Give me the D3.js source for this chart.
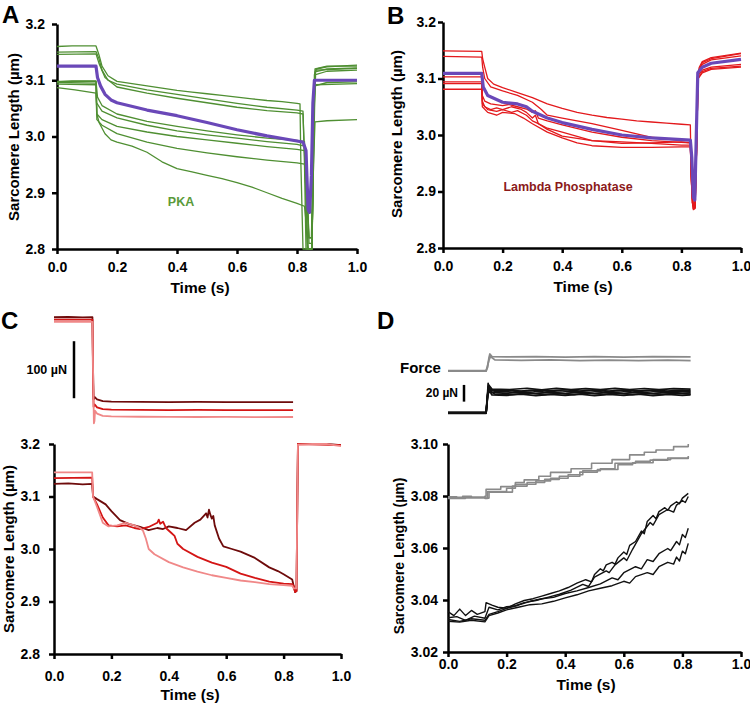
<!DOCTYPE html>
<html><head><meta charset="utf-8">
<script src="https://cdn.jsdelivr.net/npm/d3@7"></script>
<style>
body{margin:0;background:#fff;}
svg{display:block;font-family:"Liberation Sans",Arial,sans-serif;}
.axis path,.axis line{stroke:#000;stroke-width:2.5;}
.axis text{font-size:14px;font-weight:bold;fill:#000;font-family:"Liberation Sans",Arial,sans-serif;}
.trace{fill:none;stroke-linejoin:round;}
</style></head><body>
<svg id="fig" width="750" height="703"></svg>
<script>
// ---------- tick labels ----------
const timeTicks = [0, 0.2, 0.4, 0.6, 0.8, 1.0];
const slTicksABC = [2.8, 2.9, 3.0, 3.1, 3.2];
const slTicksD = [3.02, 3.04, 3.06, 3.08, 3.10];

// ---------- Panel A: PKA (time s, SL um) ----------
const pkaTraces = [
  [[0,3.160],[0.05,3.161],[0.13,3.161],[0.14,3.145],[0.15,3.125],[0.17,3.108],[0.2,3.098],[0.25,3.094],[0.3,3.090],[0.35,3.086],[0.4,3.082],[0.45,3.079],[0.5,3.076],[0.55,3.073],[0.6,3.070],[0.65,3.067],[0.7,3.064],[0.75,3.062],[0.8,3.059],[0.81,3.058],[0.813,2.95],[0.82,2.80],[0.85,2.80],[0.855,3.0],[0.858,3.11],[0.865,3.12],[0.9,3.124],[1.0,3.127]],
  [[0,3.150],[0.13,3.151],[0.14,3.138],[0.15,3.118],[0.17,3.100],[0.2,3.093],[0.3,3.083],[0.4,3.075],[0.5,3.067],[0.6,3.059],[0.7,3.052],[0.8,3.047],[0.82,3.045],[0.825,2.95],[0.83,2.80],[0.85,2.80],[0.855,3.05],[0.86,3.115],[0.9,3.120],[1.0,3.122]],
  [[0,3.146],[0.13,3.147],[0.14,3.130],[0.16,3.105],[0.2,3.088],[0.3,3.077],[0.4,3.068],[0.5,3.060],[0.6,3.052],[0.7,3.046],[0.8,3.042],[0.82,3.040],[0.83,2.90],[0.835,2.80],[0.85,2.80],[0.857,3.05],[0.862,3.11],[0.9,3.116],[1.0,3.118]],
  [[0,3.097],[0.05,3.099],[0.13,3.099],[0.132,3.06],[0.15,3.045],[0.2,3.033],[0.3,3.020],[0.4,3.010],[0.5,3.003],[0.6,2.997],[0.7,2.991],[0.8,2.986],[0.825,2.983],[0.835,2.90],[0.84,2.81],[0.85,2.81],[0.855,2.95],[0.86,3.09],[0.9,3.096],[1.0,3.097]],
  [[0,3.093],[0.13,3.092],[0.133,3.04],[0.15,3.030],[0.2,3.018],[0.3,3.008],[0.4,3.000],[0.5,2.994],[0.6,2.988],[0.7,2.982],[0.8,2.977],[0.825,2.975],[0.835,2.88],[0.84,2.82],[0.848,2.82],[0.855,3.0],[0.86,3.092],[1.0,3.094]],
  [[0,3.087],[0.06,3.083],[0.13,3.077],[0.133,3.03],[0.15,3.020],[0.2,3.005],[0.3,2.990],[0.4,2.979],[0.5,2.971],[0.6,2.964],[0.7,2.958],[0.8,2.953],[0.825,2.951],[0.835,2.86],[0.84,2.82],[0.85,2.82],[0.855,2.95],[0.86,3.026],[0.9,3.028],[1.0,3.030]],
  [[0,3.096],[0.13,3.095],[0.133,3.04],[0.14,3.025],[0.16,3.005],[0.18,2.994],[0.2,2.990],[0.25,2.983],[0.3,2.972],[0.35,2.955],[0.4,2.943],[0.45,2.937],[0.5,2.931],[0.55,2.925],[0.6,2.918],[0.65,2.910],[0.7,2.900],[0.75,2.890],[0.8,2.881],[0.825,2.876],[0.83,2.85],[0.835,2.80],[0.85,2.80],[0.855,3.0],[0.86,3.12],[0.9,3.125],[1.0,3.125]],
  [[0,3.098],[0.13,3.098],[0.135,3.07],[0.15,3.055],[0.2,3.040],[0.3,3.027],[0.4,3.018],[0.5,3.010],[0.6,3.003],[0.7,2.997],[0.8,2.993],[0.825,2.991],[0.832,2.85],[0.838,2.80],[0.85,2.80],[0.856,3.05],[0.862,3.118],[1.0,3.121]]
];
const pkaMean = [[0,3.125],[0.13,3.125],[0.135,3.105],[0.145,3.09],[0.16,3.075],[0.18,3.065],[0.2,3.06],[0.3,3.047],[0.4,3.037],[0.5,3.025],[0.6,3.012],[0.7,3.001],[0.8,2.992],[0.82,2.99],[0.83,2.975],[0.837,2.87],[0.842,2.865],[0.848,2.93],[0.853,3.06],[0.858,3.1],[1.0,3.1]];

// ---------- Panel B: Lambda Phosphatase ----------
const lpTraces = [
  [[0,3.149],[0.13,3.148],[0.133,3.135],[0.14,3.12],[0.15,3.10],[0.17,3.09],[0.2,3.084],[0.25,3.075],[0.3,3.066],[0.35,3.055],[0.4,3.047],[0.45,3.040],[0.5,3.035],[0.55,3.031],[0.6,3.028],[0.65,3.025],[0.7,3.023],[0.75,3.021],[0.8,3.019],[0.83,3.018],[0.832,2.95],[0.836,2.88],[0.845,2.87],[0.85,2.95],[0.853,3.10],[0.86,3.12],[0.87,3.13],[0.9,3.137],[0.95,3.141],[1.0,3.145]],
  [[0,3.139],[0.13,3.138],[0.133,3.12],[0.14,3.10],[0.16,3.085],[0.2,3.078],[0.25,3.070],[0.3,3.058],[0.33,3.045],[0.35,3.035],[0.4,3.030],[0.5,3.020],[0.6,3.008],[0.7,2.996],[0.8,2.990],[0.83,2.990],[0.834,2.92],[0.838,2.875],[0.846,2.872],[0.851,2.97],[0.855,3.11],[0.87,3.128],[0.9,3.135],[1.0,3.144]],
  [[0,3.103],[0.13,3.103],[0.132,3.07],[0.14,3.060],[0.16,3.055],[0.2,3.052],[0.22,3.054],[0.25,3.050],[0.28,3.046],[0.3,3.040],[0.31,3.043],[0.32,3.030],[0.35,3.025],[0.4,3.018],[0.5,3.005],[0.6,2.996],[0.7,2.990],[0.8,2.987],[0.83,2.986],[0.835,2.90],[0.84,2.87],[0.846,2.872],[0.852,3.0],[0.856,3.105],[0.87,3.115],[0.9,3.12],[1.0,3.125]],
  [[0,3.094],[0.13,3.094],[0.132,3.06],[0.14,3.050],[0.16,3.045],[0.18,3.048],[0.2,3.045],[0.23,3.050],[0.26,3.046],[0.28,3.040],[0.3,3.030],[0.31,3.035],[0.32,3.020],[0.35,3.012],[0.4,3.005],[0.5,2.990],[0.6,2.985],[0.7,2.986],[0.8,2.988],[0.83,2.986],[0.835,2.90],[0.84,2.875],[0.846,2.875],[0.852,3.0],[0.856,3.10],[0.87,3.11],[0.9,3.116],[1.0,3.120]],
  [[0,3.091],[0.13,3.091],[0.132,3.055],[0.15,3.045],[0.18,3.042],[0.2,3.045],[0.23,3.040],[0.25,3.043],[0.28,3.035],[0.3,3.025],[0.32,3.020],[0.35,3.010],[0.4,2.998],[0.5,2.990],[0.6,2.988],[0.7,2.985],[0.8,2.982],[0.83,2.982],[0.835,2.90],[0.84,2.868],[0.846,2.87],[0.852,3.0],[0.856,3.10],[0.87,3.112],[0.9,3.118],[1.0,3.122]],
  [[0,3.081],[0.13,3.081],[0.132,3.05],[0.15,3.040],[0.18,3.035],[0.2,3.040],[0.24,3.038],[0.27,3.030],[0.3,3.020],[0.35,3.005],[0.4,2.995],[0.45,2.986],[0.5,2.981],[0.6,2.978],[0.7,2.978],[0.8,2.979],[0.83,2.979],[0.835,2.90],[0.84,2.87],[0.846,2.875],[0.852,3.0],[0.856,3.11],[0.87,3.125],[0.9,3.133],[1.0,3.140]]
];
const lpMean = [[0,3.109],[0.13,3.109],[0.135,3.085],[0.15,3.07],[0.2,3.058],[0.25,3.055],[0.28,3.05],[0.3,3.042],[0.35,3.03],[0.4,3.022],[0.5,3.01],[0.6,3.0],[0.7,2.995],[0.83,2.991],[0.835,2.96],[0.84,2.89],[0.845,2.885],[0.85,3.0],[0.855,3.11],[0.87,3.12],[0.9,3.127],[1.0,3.134]];

// ---------- Panel C: force (uN) and SL ----------
const cNames = ["dark", "red", "light"];
const cForce = [
  [[0,189],[0.05,189.5],[0.1,188.8],[0.134,189],[0.136,100],[0.138,45],[0.142,49],[0.15,45],[0.17,42],[0.2,41],[0.3,40.5],[0.4,40.2],[0.5,40.5],[0.6,40],[0.7,40.3],[0.833,40]],
  [[0,185],[0.134,185],[0.136,80],[0.138,32],[0.142,36],[0.15,31],[0.17,28],[0.2,27],[0.3,26.5],[0.4,26.2],[0.5,26.4],[0.6,26],[0.7,26.2],[0.833,26]],
  [[0,181],[0.134,181],[0.136,100],[0.139,3],[0.141,7],[0.143,25],[0.15,20],[0.17,16],[0.2,15],[0.3,14.5],[0.4,14.2],[0.5,14],[0.6,14.1],[0.7,13.8],[0.833,14]]
];
const cForceBar = [47, 147];
const cSL = [
  [[0,3.124],[0.05,3.125],[0.1,3.123],[0.133,3.124],[0.136,3.10],[0.15,3.095],[0.18,3.085],[0.2,3.072],[0.23,3.055],[0.26,3.048],[0.3,3.042],[0.33,3.036],[0.36,3.040],[0.38,3.038],[0.4,3.043],[0.43,3.040],[0.46,3.036],[0.49,3.050],[0.51,3.056],[0.53,3.068],[0.535,3.060],[0.54,3.075],[0.545,3.065],[0.55,3.058],[0.555,3.063],[0.56,3.045],[0.575,3.020],[0.59,3.005],[0.62,3.000],[0.65,2.995],[0.7,2.983],[0.75,2.965],[0.78,2.958],[0.8,2.952],[0.83,2.942],[0.835,2.93],[0.84,2.918],[0.845,2.920],[0.848,3.10],[0.85,3.20],[0.9,3.200],[0.95,3.200],[1.0,3.198]],
  [[0,3.135],[0.133,3.136],[0.136,3.10],[0.15,3.085],[0.17,3.060],[0.19,3.045],[0.22,3.043],[0.25,3.045],[0.28,3.040],[0.3,3.038],[0.33,3.042],[0.36,3.050],[0.365,3.056],[0.37,3.048],[0.38,3.052],[0.39,3.040],[0.41,3.030],[0.42,3.025],[0.43,3.010],[0.45,3.000],[0.5,2.985],[0.55,2.974],[0.6,2.966],[0.65,2.953],[0.7,2.945],[0.75,2.938],[0.8,2.934],[0.83,2.933],[0.835,2.930],[0.84,2.918],[0.845,2.920],[0.848,3.10],[0.85,3.20],[1.0,3.198]],
  [[0,3.146],[0.133,3.146],[0.136,3.10],[0.15,3.080],[0.17,3.050],[0.19,3.043],[0.22,3.045],[0.25,3.050],[0.28,3.045],[0.3,3.040],[0.31,3.035],[0.32,3.020],[0.33,3.000],[0.35,2.990],[0.4,2.975],[0.45,2.965],[0.5,2.957],[0.55,2.950],[0.6,2.945],[0.65,2.940],[0.7,2.937],[0.75,2.933],[0.8,2.931],[0.83,2.930],[0.835,2.925],[0.845,2.925],[0.848,3.10],[0.85,3.199],[0.9,3.200],[0.95,3.200],[1.0,3.196]]
];

// ---------- Panel D: force (uN) and SL ----------
const dForceGray = [
  [[0,59],[0.13,59],[0.135,63],[0.14,75],[0.143,79],[0.15,76],[0.2,75.5],[0.3,76],[0.4,75.2],[0.5,75.8],[0.6,75.3],[0.7,75.9],[0.828,75.5]],
  [[0,58.5],[0.13,58.5],[0.14,72],[0.145,76],[0.16,72],[0.25,71.5],[0.35,72],[0.45,71.2],[0.55,71.8],[0.65,71],[0.75,71.6],[0.828,71.2]]
];
const dForceBlack = [
  [[0,8.5],[0.13,8.5],[0.133,20],[0.137,44],[0.14,37],[0.15,35],[0.2,36],[0.25,34.5],[0.3,36],[0.35,34.8],[0.4,36.2],[0.45,34.5],[0.5,35.8],[0.55,34.6],[0.6,36],[0.65,34.8],[0.7,35.9],[0.75,34.7],[0.8,35.8],[0.828,35]],
  [[0,9],[0.13,9],[0.134,25],[0.138,40],[0.15,33],[0.2,32],[0.25,33.5],[0.3,31.8],[0.35,33.2],[0.4,32],[0.45,33.4],[0.5,31.9],[0.55,33.1],[0.6,32],[0.65,33.3],[0.7,31.8],[0.75,33],[0.8,32.1],[0.828,32.5]],
  [[0,8],[0.13,8],[0.135,28],[0.14,36],[0.15,30],[0.2,29.5],[0.25,31],[0.3,29.2],[0.35,30.8],[0.4,29.4],[0.45,31],[0.5,29.3],[0.55,30.6],[0.6,29.5],[0.65,30.9],[0.7,29.2],[0.75,30.7],[0.8,29.6],[0.828,30]],
  [[0,8.8],[0.13,8.8],[0.135,30],[0.14,38],[0.16,34],[0.22,33.5],[0.28,35.2],[0.33,33.3],[0.38,35],[0.43,33.6],[0.48,35.3],[0.53,33.4],[0.58,35.1],[0.63,33.5],[0.68,35.2],[0.73,33.6],[0.78,34.9],[0.828,34]],
  [[0,8.2],[0.13,8.2],[0.136,30],[0.141,35],[0.16,31],[0.22,30.6],[0.28,32.2],[0.33,30.5],[0.38,32],[0.43,30.4],[0.48,32.1],[0.53,30.6],[0.58,32.3],[0.63,30.5],[0.68,32],[0.73,30.7],[0.78,31.9],[0.828,31]],
  [[0,9.2],[0.13,9.2],[0.134,28],[0.139,42],[0.15,37],[0.21,36.5],[0.27,38],[0.32,36.2],[0.37,37.8],[0.42,36.4],[0.47,37.6],[0.52,36.3],[0.57,37.9],[0.62,36.5],[0.67,37.7],[0.72,36.3],[0.77,37.6],[0.828,37]]
];
const dForceBar = [22, 42];
const dSLGray = [
  [[0,3.0797],[0.03,3.0795],[0.05,3.0799],[0.08,3.0796],[0.126,3.0799],[0.13,3.0826],[0.18,3.0836],[0.23,3.0852],[0.26,3.0862],[0.31,3.0876],[0.35,3.0891],[0.42,3.0905],[0.49,3.0926],[0.56,3.0940],[0.62,3.0958],[0.67,3.0968],[0.71,3.0977],[0.77,3.0990],[0.82,3.1000]],
  [[0,3.0791],[0.06,3.0793],[0.126,3.0791],[0.135,3.0817],[0.2,3.0830],[0.23,3.0845],[0.3,3.0858],[0.35,3.0868],[0.41,3.0882],[0.46,3.0897],[0.52,3.0905],[0.57,3.0926],[0.64,3.0933],[0.69,3.0938],[0.75,3.0946],[0.82,3.0954]],
  [[0,3.0793],[0.126,3.0792],[0.14,3.0815],[0.22,3.0838],[0.27,3.0852],[0.33,3.0864],[0.38,3.0876],[0.45,3.0892],[0.51,3.0902],[0.58,3.0920],[0.63,3.0928],[0.7,3.0940],[0.76,3.0944],[0.82,3.0950]]
];
const dSLBlack = [
  [[0,3.0355],[0.02,3.0340],[0.04,3.0365],[0.06,3.0340],[0.08,3.0360],[0.1,3.0345],[0.126,3.0355],[0.13,3.0390],[0.15,3.0380],[0.17,3.0372],[0.2,3.0368],[0.23,3.0385],[0.26,3.0398],[0.29,3.0405],[0.32,3.0415],[0.35,3.0425],[0.38,3.0435],[0.41,3.0448],[0.44,3.0465],[0.47,3.0478],[0.49,3.0470],[0.5,3.0498],[0.52,3.0520],[0.53,3.0512],[0.54,3.0535],[0.56,3.0545],[0.57,3.0538],[0.58,3.0562],[0.6,3.0585],[0.61,3.0575],[0.62,3.0610],[0.64,3.0625],[0.66,3.0665],[0.67,3.0655],[0.68,3.0702],[0.7,3.0725],[0.71,3.0712],[0.72,3.0740],[0.74,3.0755],[0.75,3.0745],[0.76,3.0762],[0.78,3.0778],[0.79,3.0770],[0.8,3.0792],[0.82,3.0810]],
  [[0,3.0332],[0.03,3.0336],[0.06,3.0322],[0.09,3.0338],[0.126,3.0330],[0.14,3.0372],[0.17,3.0362],[0.2,3.0374],[0.23,3.0378],[0.26,3.0390],[0.3,3.0398],[0.34,3.0410],[0.38,3.0422],[0.42,3.0438],[0.46,3.0460],[0.48,3.0452],[0.5,3.0488],[0.54,3.0512],[0.55,3.0505],[0.57,3.0535],[0.6,3.0562],[0.61,3.0552],[0.63,3.0595],[0.66,3.0655],[0.69,3.0698],[0.7,3.0688],[0.72,3.0728],[0.75,3.0748],[0.77,3.0738],[0.78,3.0765],[0.8,3.0782],[0.81,3.0775],[0.82,3.0798]],
  [[0,3.0325],[0.04,3.0318],[0.08,3.0328],[0.126,3.0322],[0.14,3.0345],[0.17,3.0355],[0.2,3.0368],[0.24,3.0380],[0.28,3.0395],[0.32,3.0405],[0.36,3.0410],[0.4,3.0425],[0.44,3.0435],[0.48,3.0448],[0.52,3.0462],[0.56,3.0485],[0.58,3.0478],[0.6,3.0505],[0.64,3.0528],[0.66,3.0520],[0.68,3.0555],[0.7,3.0548],[0.72,3.0578],[0.75,3.0598],[0.76,3.0590],[0.78,3.0625],[0.79,3.0612],[0.8,3.0652],[0.81,3.0640],[0.82,3.0676]],
  [[0,3.0318],[0.04,3.0315],[0.08,3.0322],[0.126,3.0316],[0.14,3.0340],[0.17,3.0350],[0.2,3.0362],[0.24,3.0372],[0.28,3.0382],[0.32,3.0385],[0.36,3.0395],[0.4,3.0408],[0.44,3.0420],[0.48,3.0435],[0.52,3.0445],[0.56,3.0455],[0.6,3.0472],[0.62,3.0465],[0.64,3.0490],[0.68,3.0505],[0.7,3.0498],[0.72,3.0528],[0.75,3.0545],[0.77,3.0538],[0.78,3.0565],[0.79,3.0550],[0.8,3.0588],[0.81,3.0578],[0.82,3.0618]]
];

// ---------- drawing ----------
const svg = d3.select("#fig");
const fmt1 = d3.format(".1f"), fmt2 = d3.format(".2f");

function panel(c) {
  const x = d3.scaleLinear().domain([0, 1]).range([c.x0, c.x1]);
  const y = d3.scaleLinear().domain(c.yDomain).range([c.yB, c.yT]);
  const g = svg.append("g");
  g.append("g").attr("class", "axis").attr("transform", `translate(0,${c.yB})`)
    .call(d3.axisBottom(x).tickValues(timeTicks).tickFormat(fmt1).tickSize(5).tickSizeOuter(0).tickPadding(c.xPad));
  g.append("g").attr("class", "axis").attr("transform", `translate(${c.x0},0)`)
    .call(d3.axisLeft(y).tickValues(c.yTicks).tickFormat(c.yFmt).tickSize(5).tickSizeOuter(0).tickPadding(c.yPad));
  g.append("text").attr("x", c.tx).attr("y", c.ty).attr("text-anchor", "middle")
    .attr("font-size", 15.5).attr("font-weight", "bold").text("Time (s)");
  g.append("text").attr("transform", `translate(${c.lx},${c.ly}) rotate(-90)`).attr("text-anchor", "middle")
    .attr("dominant-baseline", "central").attr("font-size", c.lfs).attr("font-weight", "bold").text("Sarcomere Length (µm)");
  svg.append("text").attr("x", c.px).attr("y", c.py).attr("font-size", 24).attr("font-weight", "bold").text(c.letter);
  const line = d3.line().x(d => x(d[0])).y(d => y(d[1]));
  return { x, y, g, line };
}

function draw(g, gen, data, color, w) {
  g.append("path").attr("class", "trace").attr("d", gen(data)).attr("stroke", color).attr("stroke-width", w);
}

// A
const A = panel({x0: 57, x1: 357, yT: 24, yB: 249, yDomain: [2.8, 3.2], yTicks: slTicksABC, yFmt: fmt1,
  xPad: 8, yPad: 7, tx: 200, ty: 293, lx: 13, ly: 137, lfs: 15, px: 2, py: 23, letter: "A"});
pkaTraces.forEach(t => draw(A.g, A.line, t, "#4f8f32", 1.3));
draw(A.g, A.line, pkaMean, "#6a48b8", 3.2);
A.g.append("text").attr("x", 181).attr("y", 206).attr("text-anchor", "middle").attr("font-size", 12.5)
  .attr("font-weight", "bold").attr("fill", "#5a9a3a").text("PKA");

// B
const B = panel({x0: 443, x1: 741, yT: 22, yB: 248, yDomain: [2.8, 3.2], yTicks: slTicksABC, yFmt: fmt1,
  xPad: 8, yPad: 2, tx: 583, ty: 292, lx: 396, ly: 134, lfs: 15, px: 387, py: 24, letter: "B"});
lpTraces.forEach(t => draw(B.g, B.line, t, "#e3191c", 1.3));
draw(B.g, B.line, lpMean, "#6a48b8", 3.2);
B.g.append("text").attr("x", 568).attr("y", 191).attr("text-anchor", "middle").attr("font-size", 12.5)
  .attr("font-weight", "bold").attr("fill", "#8b1a1a").text("Lambda Phosphatase");

// C
const cColors = ["#6e0b0b", "#d41515", "#f08888"];
const C = panel({x0: 54, x1: 341, yT: 444, yB: 654, yDomain: [2.8, 3.2], yTicks: slTicksABC, yFmt: fmt1,
  xPad: 12, yPad: 9, tx: 190, ty: 700, lx: 8, ly: 549, lfs: 15, px: 1, py: 329, letter: "C"});
cSL.forEach((t, i) => draw(C.g, C.line, t, cColors[i], 1.8));
const cfy = d3.scaleLinear().domain([0, 100]).range([425, 368]);
const cfLine = d3.line().x(d => C.x(d[0])).y(d => cfy(d[1]));
cForce.forEach((t, i) => draw(C.g, cfLine, t, cColors[i], 1.8));
C.g.append("line").attr("x1", 74).attr("x2", 74).attr("y1", cfy(cForceBar[0])).attr("y2", cfy(cForceBar[1]))
  .attr("stroke", "#000").attr("stroke-width", 2.5);
C.g.append("text").attr("x", 67).attr("y", 374).attr("text-anchor", "end").attr("font-size", 12.5)
  .attr("font-weight", "bold").text("100 µN");

// D
const D = panel({x0: 448, x1: 741, yT: 444, yB: 652, yDomain: [3.02, 3.10], yTicks: slTicksD, yFmt: fmt2,
  xPad: 2, yPad: 5, tx: 586, ty: 690, lx: 399, ly: 556, lfs: 14, px: 377, py: 329, letter: "D"});
dSLGray.forEach(t => D.g.append("path").attr("class", "trace").attr("d", d3.line().curve(d3.curveStepAfter).x(d => D.x(d[0])).y(d => D.y(d[1]))(t))
  .attr("stroke", "#8a8a8a").attr("stroke-width", 1.6));
dSLBlack.forEach(t => draw(D.g, D.line, t, "#111", 1.4));
const dfy = d3.scaleLinear().domain([0, 20]).range([420, 403.3]);
const dfLine = d3.line().x(d => D.x(d[0])).y(d => dfy(d[1]));
dForceGray.forEach(t => draw(D.g, dfLine, t, "#8a8a8a", 1.8));
dForceBlack.forEach(t => draw(D.g, dfLine, t, "#111", 1.7));
D.g.append("line").attr("x1", 464).attr("x2", 464).attr("y1", dfy(dForceBar[0])).attr("y2", dfy(dForceBar[1]))
  .attr("stroke", "#000").attr("stroke-width", 2.5);
D.g.append("text").attr("x", 458).attr("y", 397).attr("text-anchor", "end").attr("font-size", 12)
  .attr("font-weight", "bold").text("20 µN");
D.g.append("text").attr("x", 400).attr("y", 373).attr("font-size", 15).attr("font-weight", "bold").text("Force");
</script>
</body></html>
